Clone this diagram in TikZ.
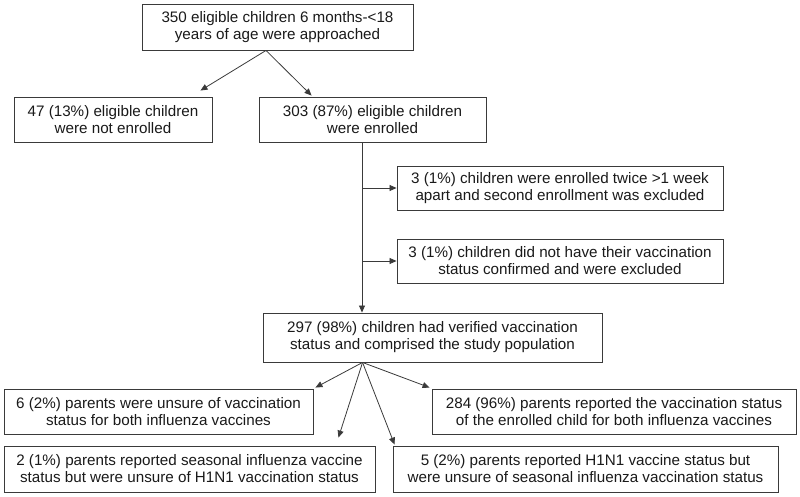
\documentclass[tikz,border=0pt]{standalone}
\usepackage{fontspec}
\setmainfont{Liberation Sans}
\usetikzlibrary{arrows.meta,calc}
\definecolor{ink}{HTML}{1A1A1A}
\definecolor{edge}{HTML}{3A3A3A}
\tikzset{
  flowbox/.style={draw=edge, line width=0.9pt, fill=white, text=ink, align=center,
    inner sep=0pt, font=\fontsize{15.2}{17}\selectfont},
  conn/.style={draw=edge, line width=0.8pt, -{Triangle[length=7pt,width=6pt]}},
  plain/.style={draw=edge, line width=0.8pt}
}
\begin{document}
\begin{tikzpicture}[x=1pt,y=-1pt]
\useasboundingbox (0,0) rectangle (800,497);
% boxes (pixel geometry)
\node[flowbox, minimum width=271pt, minimum height=46pt] (top) at (277.5,27)
  {350 eligible children 6 months-<18\\years of age were approached};
\node[flowbox, minimum width=198pt, minimum height=45pt] (left) at (113,119.5)
  {47 (13\%) eligible children\\were not enrolled};
\node[flowbox, minimum width=227pt, minimum height=45pt] (mid) at (372.5,119.5)
  {303 (87\%) eligible children\\were enrolled};
\node[flowbox, minimum width=326pt, minimum height=44pt] (r1) at (560,188)
  {3 (1\%) children were enrolled twice >1 week\\apart and second enrollment was excluded};
\node[flowbox, minimum width=326pt, minimum height=44pt] (r2) at (560,261)
  {3 (1\%) children did not have their vaccination\\status confirmed and were excluded};
\node[flowbox, minimum width=339pt, minimum height=49pt] (pop) at (432.5,337.5)
  {297 (98\%) children had verified vaccination\\status and comprised the study population};
\node[flowbox, minimum width=309pt, minimum height=45pt] (b7) at (158.5,411.5)
  {6 (2\%) parents were unsure of vaccination\\status for both influenza vaccines};
\node[flowbox, minimum width=364pt, minimum height=45pt] (b8) at (614,411.5)
  {284 (96\%) parents reported the vaccination status\\of the enrolled child for both influenza vaccines};
\node[flowbox, minimum width=371pt, minimum height=46pt] (b9) at (189.5,469)
  {2 (1\%) parents reported seasonal influenza vaccine\\status but were unsure of H1N1 vaccination status};
\node[flowbox, minimum width=385pt, minimum height=46pt] (b10) at (585.5,469)
  {5 (2\%) parents reported H1N1 vaccine status but\\were unsure of seasonal influenza vaccination status};
% connectors
\coordinate (tapex) at ([xshift=-11.5pt]top.south);
\draw[conn] (tapex) -- ([xshift=-12pt,yshift=6pt]left.north east);
\draw[conn] (tapex) -- ([xshift=53pt,yshift=1pt]mid.north west);
\coordinate (vtop) at ([xshift=-10.5pt]mid.south);
\draw[conn] (vtop) -- (vtop |- pop.north);
\draw[conn] (vtop |- r1.west) -- (r1.west);
\draw[conn] (vtop |- r2.west) -- (r2.west);
\coordinate (papex) at ([xshift=100pt]pop.south west);
\draw[conn] (papex) -- ([xshift=2pt,yshift=1pt]b7.north east);
\draw[conn] (papex) -- ([xshift=-2pt,yshift=1pt]b8.north west);
\draw[conn] (papex) -- ([xshift=-37pt,yshift=8pt]b9.north east);
\draw[conn] (papex) -- ([xshift=2pt,yshift=1pt]b10.north west);
\end{tikzpicture}
\end{document}
